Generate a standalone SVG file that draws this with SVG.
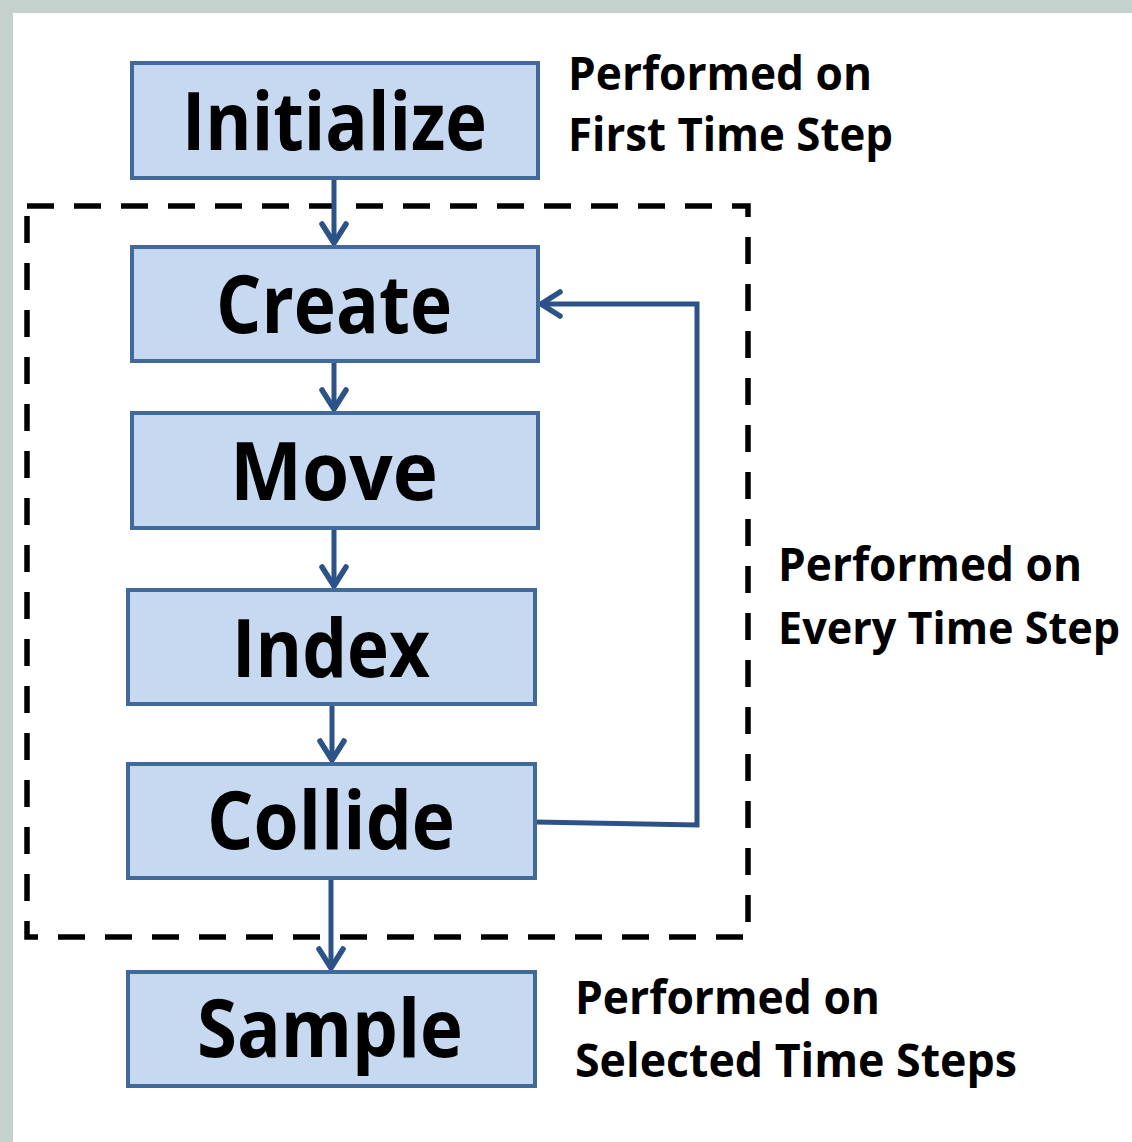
<svg xmlns="http://www.w3.org/2000/svg" width="1132" height="1142" viewBox="0 0 1132 1142">
  <defs>
    <style>
      .box { fill: #c6d9f1; stroke: #41699a; stroke-width: 4; }
      .lbl { font-family: "Open Sans", "Liberation Sans", sans-serif; font-weight: bold; font-size: 80px; fill: #000; text-anchor: middle; }
      .note { font-family: "Open Sans", "Liberation Sans", sans-serif; font-weight: bold; font-size: 46px; fill: #000; }
      .conn { fill: none; stroke: #2c5288; stroke-width: 5; stroke-linejoin: miter; }
      .dash { fill: none; stroke: #000; stroke-width: 5.5; stroke-dasharray: 27 20; }
    </style>
    <marker id="ah" markerUnits="userSpaceOnUse" markerWidth="40" markerHeight="40" viewBox="-30 -20 40 40" refX="0" refY="0" orient="auto">
      <path d="M-19,-12 L0,0 L-19,12" fill="none" stroke="#2c5288" stroke-width="5.5" stroke-linecap="round" stroke-linejoin="round"/>
    </marker>
  </defs>
  <rect x="0" y="0" width="1132" height="1142" fill="#c5d1cc"/>
  <rect x="13" y="13" width="1119" height="1129" fill="#ffffff"/>

  <rect id="loop-region" class="dash" x="27" y="206" width="721" height="731"/>

  <g id="connectors">
    <path class="conn" d="M334,178 L334,243" marker-end="url(#ah)"/>
    <path class="conn" d="M334,361 L334,409" marker-end="url(#ah)"/>
    <path class="conn" d="M334,528 L334,586" marker-end="url(#ah)"/>
    <path class="conn" d="M332,704 L332,760" marker-end="url(#ah)"/>
    <path class="conn" d="M331,878 L331,968" marker-end="url(#ah)"/>
    <path class="conn" d="M535,822 L697,825 L697,304 L541,304" marker-end="url(#ah)"/>
  </g>

  <g id="initialize">
    <rect class="box" x="132" y="63" width="406" height="115"/>
    <text class="lbl" x="334.5" y="150" textLength="305" lengthAdjust="spacingAndGlyphs">Initialize</text>
  </g>
  <g id="create">
    <rect class="box" x="132" y="247" width="406" height="114"/>
    <text class="lbl" x="334" y="333" textLength="236" lengthAdjust="spacingAndGlyphs">Create</text>
  </g>
  <g id="move">
    <rect class="box" x="132" y="413" width="406" height="115"/>
    <text class="lbl" x="334" y="500" textLength="208" lengthAdjust="spacingAndGlyphs">Move</text>
  </g>
  <g id="index">
    <rect class="box" x="128" y="590" width="407" height="114"/>
    <text class="lbl" x="331" y="677" textLength="198" lengthAdjust="spacingAndGlyphs">Index</text>
  </g>
  <g id="collide">
    <rect class="box" x="128" y="764" width="407" height="114"/>
    <text class="lbl" x="331" y="849" textLength="248" lengthAdjust="spacingAndGlyphs">Collide</text>
  </g>
  <g id="sample">
    <rect class="box" x="128" y="972" width="407" height="114"/>
    <text class="lbl" x="330" y="1057" textLength="266" lengthAdjust="spacingAndGlyphs">Sample</text>
  </g>

  <g id="note-first">
    <text class="note" x="568" y="90" textLength="304" lengthAdjust="spacingAndGlyphs">Performed on</text>
    <text class="note" x="568" y="151" textLength="325" lengthAdjust="spacingAndGlyphs">First Time Step</text>
  </g>
  <g id="note-every">
    <text class="note" x="778" y="581" textLength="304" lengthAdjust="spacingAndGlyphs">Performed on</text>
    <text class="note" x="778" y="644" style="font-size:44px" textLength="342" lengthAdjust="spacingAndGlyphs">Every Time Step</text>
  </g>
  <g id="note-selected">
    <text class="note" x="575" y="1014" textLength="305" lengthAdjust="spacingAndGlyphs">Performed on</text>
    <text class="note" x="575" y="1077" textLength="442" lengthAdjust="spacingAndGlyphs">Selected Time Steps</text>
  </g>
</svg>
